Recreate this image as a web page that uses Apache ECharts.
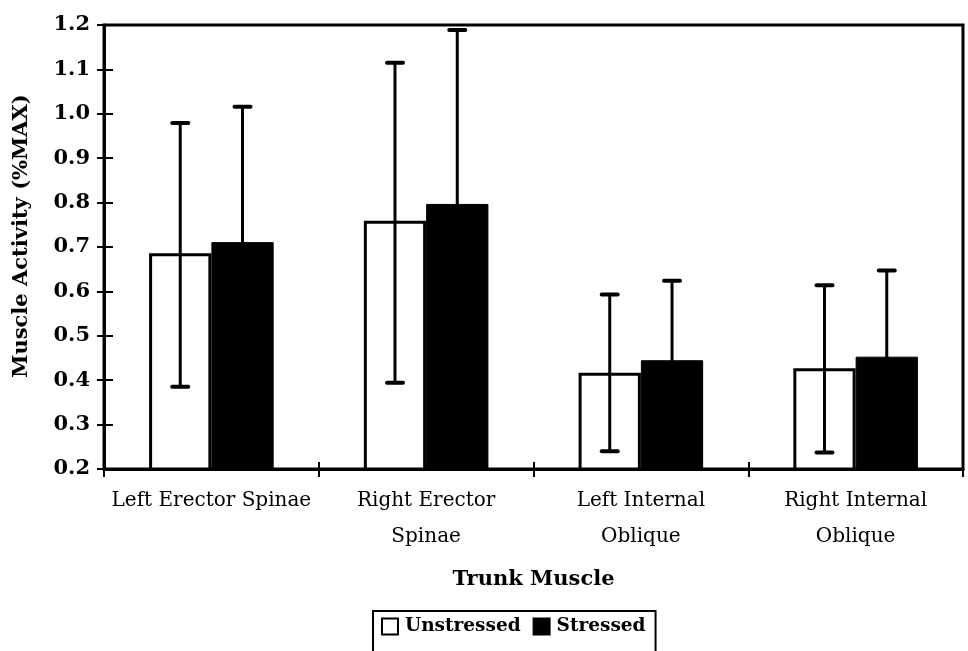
<!DOCTYPE html>
<html>
<head>
<meta charset="utf-8">
<script src="https://cdn.jsdelivr.net/npm/echarts@6/dist/echarts.min.js"></script>
<style>
html,body{margin:0;padding:0;background:#fff;}
#chart{width:968px;height:651px;}
</style>
</head>
<body>
<div id="chart"></div>
<script>
var categories = ['Left Erector Spinae', 'Right Erector\nSpinae', 'Left Internal\nOblique', 'Right Internal\nOblique'];
var unstressed = [0.686, 0.759, 0.417, 0.427];
var stressed = [0.711, 0.797, 0.445, 0.453];
var unstressedLow = [0.385, 0.394, 0.240, 0.237];
var unstressedHigh = [0.979, 1.115, 0.593, 0.614];
var stressedLow = [0.406, 0.405, 0.266, 0.259];
var stressedHigh = [1.016, 1.189, 0.624, 0.647];
var yMin = 0.2, yMax = 1.2, yStep = 0.1;

var FONT = 'DejaVu Serif';
var BAR_FRAC = 0.29;

function errData(lo, hi) {
  return categories.map(function (c, i) { return [i, lo[i], hi[i]]; });
}
function makeErr(sign) {
  return function (params, api) {
    var idx = api.value(0);
    var band = api.size([1, 0])[0];
    var off = sign * band * BAR_FRAC / 2;
    var lo = api.coord([idx, api.value(1)]);
    var hi = api.coord([idx, api.value(2)]);
    var x = lo[0] + off;
    var cap = 8;
    var st = { stroke: '#000', lineWidth: 3 };
    return {
      type: 'group',
      children: [
        { type: 'line', shape: { x1: x, y1: lo[1], x2: x, y2: hi[1] }, style: st },
        { type: 'line', shape: { x1: x - cap, y1: lo[1], x2: x + cap, y2: lo[1] }, style: { stroke: '#000', lineWidth: 4, lineCap: 'round' } },
        { type: 'line', shape: { x1: x - cap, y1: hi[1], x2: x + cap, y2: hi[1] }, style: { stroke: '#000', lineWidth: 4, lineCap: 'round' } }
      ]
    };
  };
}

var chart = echarts.init(document.getElementById('chart'));
chart.setOption({
  animation: false,
  backgroundColor: '#fff',
  textStyle: { fontFamily: FONT, color: '#000' },
  grid: { left: 104, right: 5, top: 25, bottom: 182, show: true, borderColor: '#000', borderWidth: 3, containLabel: false },
  graphic: [{
    type: 'text',
    x: 22, y: 236,
    rotation: Math.PI / 2,
    style: {
      text: 'Muscle Activity (%MAX)',
      fontFamily: FONT, fontWeight: 'bold', fontSize: 21, fill: '#000',
      align: 'center', verticalAlign: 'middle'
    }
  }],
  legend: {
    data: ['Unstressed', 'Stressed'],
    left: 373, top: 611,
    padding: [6, 10, 16, 8],
    borderColor: '#000', borderWidth: 2,
    itemWidth: 16, itemHeight: 16, itemGap: 12,
    icon: 'rect',
    textStyle: { fontFamily: FONT, fontWeight: 'bold', fontSize: 18.5, color: '#000', padding: [0, 0, 0, 2] }
  },
  xAxis: [{
    type: 'category',
    data: categories,
    boundaryGap: true,
    axisLine: { lineStyle: { color: '#000', width: 3 } },
    axisTick: { show: true, length: 8, lineStyle: { color: '#000', width: 2 } },
    axisLabel: { fontFamily: FONT, fontSize: 20, color: '#000', lineHeight: 36, margin: 14, interval: 0 },
    name: 'Trunk Muscle',
    nameLocation: 'middle',
    nameGap: 100,
    nameTextStyle: { fontFamily: FONT, fontWeight: 'bold', fontSize: 21, color: '#000' }
  }, {
    type: 'category',
    data: categories,
    position: 'bottom',
    boundaryGap: true,
    axisLine: { show: false },
    axisTick: { show: true, inside: true, length: 7, lineStyle: { color: '#000', width: 2 } },
    axisLabel: { show: false }
  }],
  yAxis: [{
    type: 'value',
    min: yMin, max: yMax, interval: yStep,
    splitLine: { show: false },
    axisLine: { show: true, lineStyle: { color: '#000', width: 3 } },
    axisTick: { show: true, length: 7, lineStyle: { color: '#000', width: 2 } },
    axisLabel: { fontFamily: FONT, fontWeight: 'bold', fontSize: 21, color: '#000', margin: 14,
      formatter: function (v) { return v.toFixed(1); } }
  }, {
    type: 'value',
    position: 'left',
    min: yMin, max: yMax, interval: yStep,
    splitLine: { show: false },
    axisLine: { show: false },
    axisTick: { show: true, inside: true, length: 9, lineStyle: { color: '#000', width: 2 } },
    axisLabel: { show: false }
  }],
  series: [{
    name: 'Unstressed', type: 'bar', data: unstressed, barWidth: (BAR_FRAC * 100) + '%', barGap: '0%',
    itemStyle: { color: '#fff', borderColor: '#000', borderWidth: 3 }, z: 2
  }, {
    name: 'Stressed', type: 'bar', data: stressed, barWidth: (BAR_FRAC * 100) + '%', barGap: '0%',
    itemStyle: { color: '#000', borderColor: '#000', borderWidth: 1 }, z: 2
  }, {
    name: 'errU', type: 'custom', data: errData(unstressedLow, unstressedHigh), renderItem: makeErr(-1),
    encode: { x: 0, y: [1, 2] }, z: 5, clip: false
  }, {
    name: 'errS', type: 'custom', data: errData(stressedLow, stressedHigh), renderItem: makeErr(1),
    encode: { x: 0, y: [1, 2] }, z: 5, clip: false
  }]
});
</script>
</body>
</html>
